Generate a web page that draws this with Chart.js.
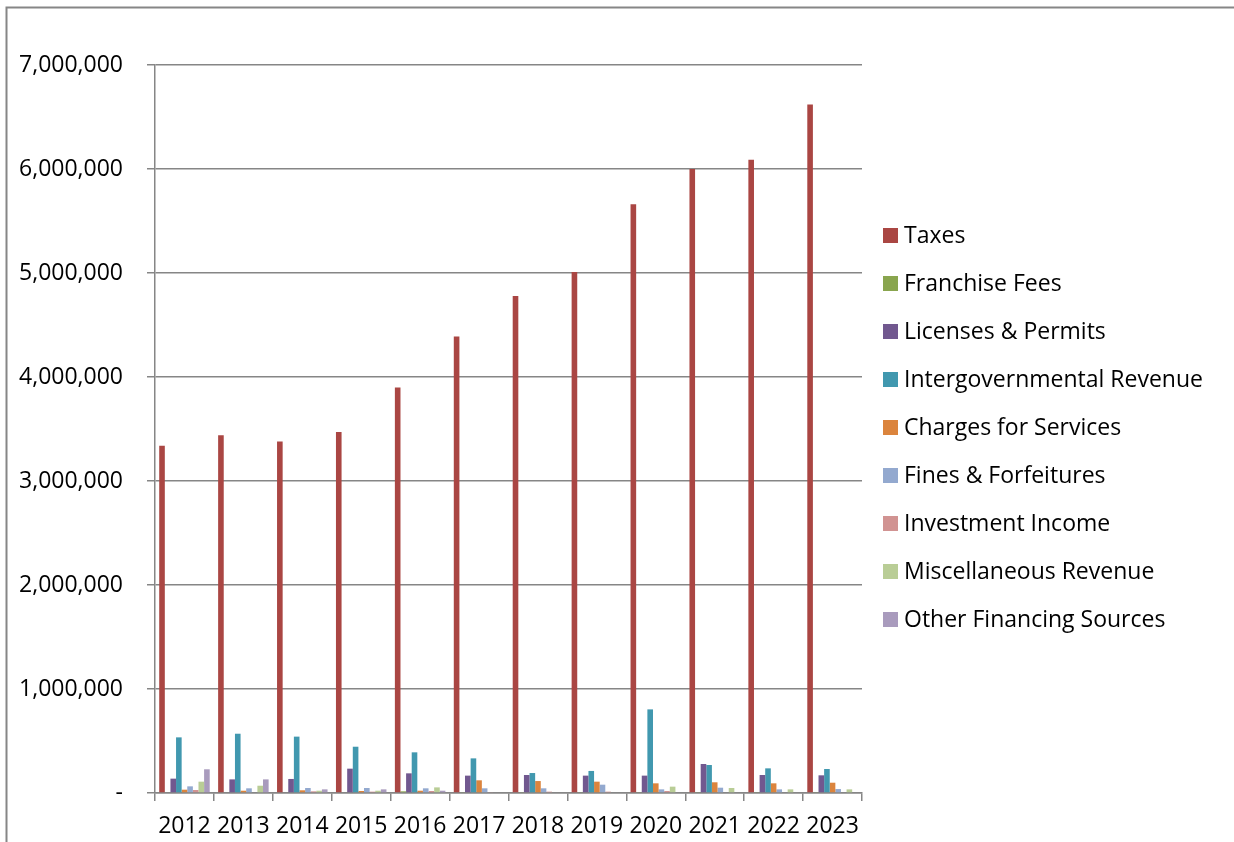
<!DOCTYPE html>
<html>
<head>
<meta charset="utf-8">
<title>General Fund Revenues 2012-2023</title>
<script src="https://cdn.jsdelivr.net/npm/chart.js@4"></script>
<style>
    html, body { margin: 0; padding: 0; background: #fff; overflow: hidden; }
    #wrap { width: 1234px; height: 842px; position: relative; }
</style>
</head>
<body>
<div id="wrap"><canvas id="chartRevenue" width="1234" height="842"></canvas></div>
<script>
'use strict';

//years

var years = ['2012', '2013', '2014', '2015', '2016', '2017', '2018', '2019', '2020', '2021', '2022', '2023'];

//revenue by source

var taxes       = [3340000, 3440000, 3380000, 3470000, 3900000, 4390000, 4780000, 5010000, 5660000, 6000000, 6090000, 6620000];
var franchise   = [0, 0, 0, 0, 16000, 6000, 6000, 6000, 6000, 6000, 6000, 6000];
var licenses    = [138000, 131000, 135000, 234000, 189000, 167000, 173000, 167000, 167000, 279000, 173000, 170000];
var intergov    = [535000, 570000, 542000, 445000, 391000, 333000, 192000, 212000, 804000, 269000, 237000, 231000];
var charges     = [32000, 22000, 26000, 19000, 22000, 122000, 115000, 109000, 93000, 103000, 93000, 99000];
var fines       = [64000, 45000, 48000, 48000, 45000, 45000, 45000, 80000, 35000, 51000, 35000, 38000];
var investment  = [29000, -15000, 16000, 13000, 19000, 6000, 13000, 13000, 19000, -10000, 0, 0];
var misc        = [109000, 70000, 22000, 22000, 54000, 0, 0, 0, 61000, 48000, 35000, 35000];
var otherFin    = [228000, 131000, 35000, 35000, 22000, 0, 0, 0, 0, 0, 0, 0];

//y axis

var yMin = 0;
var yMax = 7000000;
var yStep = 1000000;

//colors

var colorGrid = "rgb(134,134,134)";
var colorText = "rgb(000,000,000)";
var seriesColors = ['#AA4643', '#89A54E', '#71588F', '#4198AF', '#DB843D', '#93A9CF', '#D19392', '#B9CD96', '#A99BBD'];
var seriesNames = ['Taxes', 'Franchise Fees', 'Licenses & Permits', 'Intergovernmental Revenue', 'Charges for Services',
    'Fines & Forfeitures', 'Investment Income', 'Miscellaneous Revenue', 'Other Financing Sources'];
var seriesData = [taxes, franchise, licenses, intergov, charges, fines, investment, misc, otherFin];

var fontFamily = "'Open Sans', 'Liberation Sans', sans-serif";
var fontSize = 23;

//chart data

const chartRevenueData = {
    labels: years,
    datasets: seriesNames.map((name, i) => ({
        label: name,
        data: seriesData[i],
        backgroundColor: seriesColors[i],
        borderWidth: 0,
        categoryPercentage: 9 / 10.5,
        barPercentage: 1.0
    }))
};

//frame round the whole chart (open on the right and bottom)

const framePlugin = {
    id: 'frame',
    beforeDraw(chart) {
        const ctx = chart.ctx;
        ctx.save();
        ctx.strokeStyle = colorGrid;
        ctx.lineWidth = 2;
        ctx.beginPath();
        ctx.moveTo(6.5, chart.height);
        ctx.lineTo(6.5, 7.5);
        ctx.lineTo(chart.width, 7.5);
        ctx.stroke();
        ctx.restore();
    }
};

//legend on the right, boxes close to the text

const sideLegendPlugin = {
    id: 'sideLegend',
    afterDraw(chart) {
        const ctx = chart.ctx;
        const boxSize = 15;
        const step = 48;
        const x = chart.chartArea.right + 21;
        const count = chart.data.datasets.length;
        const mid = (chart.chartArea.top + chart.chartArea.bottom) / 2 - 2;
        let y = mid - step * (count - 1) / 2;
        ctx.save();
        ctx.font = fontSize + 'px ' + fontFamily;
        ctx.textBaseline = 'middle';
        ctx.textAlign = 'left';
        chart.data.datasets.forEach(ds => {
            ctx.fillStyle = ds.backgroundColor;
            ctx.fillRect(x, Math.round(y - boxSize / 2), boxSize, boxSize);
            ctx.fillStyle = colorText;
            ctx.fillText(ds.label, x + boxSize + 6, y + 1);
            y += step;
        });
        ctx.restore();
    }
};

const chartRevenueConfig = {
    type: 'bar',
    data: chartRevenueData,
    plugins: [framePlugin, sideLegendPlugin],
    options: {
        responsive: false,
        animation: false,
        layout: {
            padding: { left: 0, top: 65, right: 372, bottom: 0 }
        },
        plugins: {
            legend: { display: false },
            tooltip: { enabled: false }
        },
        scales: {
            x: {
                offset: true,
                grid: { drawOnChartArea: false, drawTicks: true, tickLength: 8, color: colorGrid, lineWidth: 1.5, offset: true },
                border: { color: colorGrid, width: 1.5 },
                ticks: { color: colorText, padding: 12, maxRotation: 0, autoSkip: false, font: { family: fontFamily, size: fontSize } },
                afterFit: function (scale) { scale.height = 49; }
            },
            y: {
                min: yMin,
                max: yMax,
                grid: { color: colorGrid, lineWidth: 1.5, tickLength: 8 },
                border: { color: colorGrid, width: 1.5 },
                ticks: {
                    stepSize: yStep,
                    color: colorText,
                    padding: 24,
                    font: { family: fontFamily, size: fontSize },
                    callback: function (value) { return value === 0 ? '-' : value.toLocaleString('en-US'); }
                },
                afterFit: function (scale) { scale.width = 155; }
            }
        }
    }
};

window.onload = function () {

    //draw chart
    new Chart(
        document.getElementById('chartRevenue'),
        chartRevenueConfig
    );
}
</script>
</body>
</html>
